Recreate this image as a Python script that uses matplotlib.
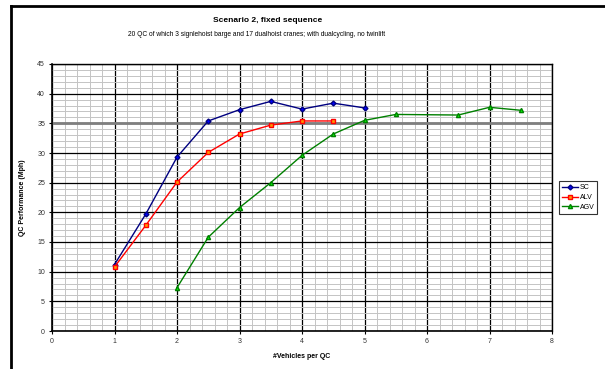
import matplotlib.pyplot as plt
from matplotlib.ticker import MultipleLocator
from matplotlib.lines import Line2D

plt.rcParams['font.family'] = ['Liberation Sans', 'DejaVu Sans']

# data
sc_x = [1, 1.5, 2, 2.5, 3, 3.5, 4, 4.5, 5]
sc_y = [11.2, 19.7, 29.3, 35.4, 37.3, 38.7, 37.4, 38.4, 37.6]
alv_x = [1, 1.5, 2, 2.5, 3, 3.5, 4, 4.5]
alv_y = [10.8, 17.8, 25.1, 30.1, 33.2, 34.7, 35.4, 35.4]
agv_x = [2, 2.5, 3, 3.5, 4, 4.5, 5, 5.5, 6.5, 7, 7.5]
agv_y = [7.3, 15.8, 20.8, 25.0, 29.6, 33.2, 35.5, 36.5, 36.4, 37.7, 37.2]

fig = plt.figure(figsize=(6.05, 3.69), dpi=100)
ax = fig.add_axes([52/605, 1 - 331/369, 500/605, 267/369])

# frame of the chart object (left and top edges visible)
fig.add_artist(Line2D([11/605, 11/605], [0, 1 - 6/369], color='black', lw=2, transform=fig.transFigure))
fig.add_artist(Line2D([11/605, 1], [1 - 6/369, 1 - 6/369], color='black', lw=2, transform=fig.transFigure))

ax.set_xlim(0, 8)
ax.set_ylim(0, 45)
ax.xaxis.set_major_locator(MultipleLocator(1))
ax.xaxis.set_minor_locator(MultipleLocator(0.2))
ax.yaxis.set_major_locator(MultipleLocator(5))
ax.yaxis.set_minor_locator(MultipleLocator(1))
ax.grid(which='minor', color='#c4c4c4', lw=0.7)
ax.grid(which='major', color='black', lw=0.9)
ax.axhline(35, color='#808080', lw=2, zorder=1.5)
ax.set_axisbelow(True)

ax.plot(sc_x, sc_y, color='#000080', lw=1, marker='D', ms=2.5,
        mfc='#0000ff', mec='#000080', label='SC', zorder=3)
ax.plot(alv_x, alv_y, color='#ff0000', lw=1, marker='s', ms=3.5,
        mfc='#ff9900', mec='#ff0000', label='ALV', zorder=3)
ax.plot(agv_x, agv_y, color='#008000', lw=1, marker='^', ms=3,
        mfc='#00ff00', mec='#008000', label='AGV', zorder=3)

for s in ['bottom', 'left']:
    ax.spines[s].set_linewidth(1.2)
for s in ['top', 'right']:
    ax.spines[s].set_linewidth(1.0)
ax.tick_params(which='major', labelsize=5, length=2, colors='black', labelcolor='#333333', pad=3)
ax.tick_params(which='minor', length=0)

ax.set_xlabel('#Vehicles per QC', fontsize=5, fontweight='bold', labelpad=6)
ax.set_ylabel('QC Performance (Mph)', fontsize=5, fontweight='bold', labelpad=8)

fig.text(268/605, 1 - 21/369, 'Scenario 2, fixed sequence', fontsize=6, fontweight='bold',
         ha='center', va='center')
fig.text(257/605, 1 - 34/369,
         '20 QC of which 3 signlehoist barge and 17 dualhoist cranes; with dualcycling, no twinlift',
         fontsize=4.8, ha='center', va='center')

leg = ax.legend(loc='center left', bbox_to_anchor=(1.008, 0.5), fontsize=5,
                frameon=True, fancybox=False, edgecolor='black', handlelength=2.2,
                borderpad=0.4, labelspacing=0.4, handletextpad=0.3)
leg.get_frame().set_linewidth(0.8)

fig.savefig('out.png', dpi=100)
